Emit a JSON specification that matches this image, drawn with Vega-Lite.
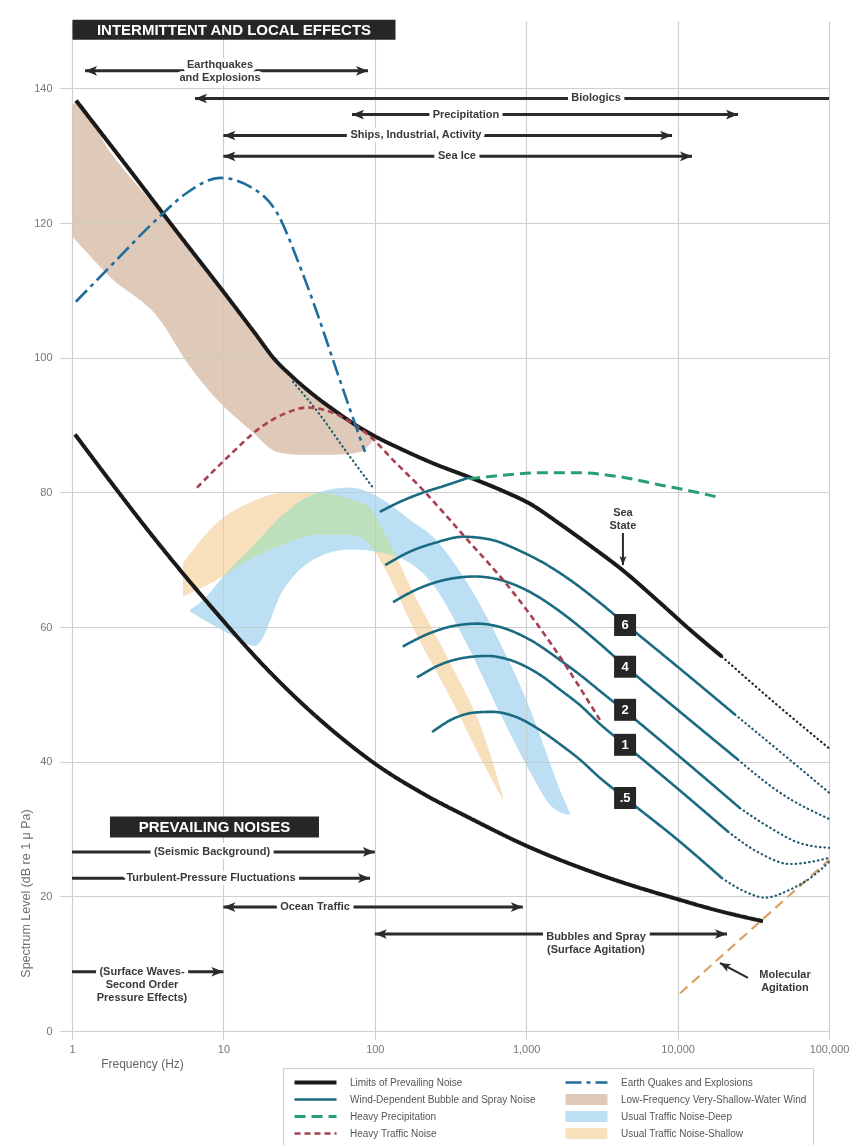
{
"$schema":"https://vega.github.io/schema/vega-lite/v6.json",
"width":757,"height":1010,
"autosize":{"type":"none"},
"padding":{"left":72,"top":21,"right":22,"bottom":114},
"background":"#ffffff",
"config":{"view":{"stroke":null},"font":"Liberation Sans"},
"datasets":{
"curveinfo":[
{"c":"upper","s":"Limits of Prevailing Noise"},
{"c":"lower","s":"Limits of Prevailing Noise"},
{"c":"sstop","s":"Wind-Dependent Bubble and Spray Noise"},
{"c":"ss6","s":"Wind-Dependent Bubble and Spray Noise"},
{"c":"ss4","s":"Wind-Dependent Bubble and Spray Noise"},
{"c":"ss2","s":"Wind-Dependent Bubble and Spray Noise"},
{"c":"ss1","s":"Wind-Dependent Bubble and Spray Noise"},
{"c":"ss05","s":"Wind-Dependent Bubble and Spray Noise"},
{"c":"precip","s":"Heavy Precipitation"},
{"c":"traffic","s":"Heavy Traffic Noise"},
{"c":"quake","s":"Earth Quakes and Explosions"}
],
"curves":[
{"c":"upper","f":1.063,"db":138.2},{"c":"upper","f":2.42,"db":127.8},{"c":"upper","f":5.17,"db":118.1},{"c":"upper","f":10,"db":109.8},{"c":"upper","f":16.2,"db":103.6},{"c":"upper","f":21.9,"db":99.7},{"c":"upper","f":27.5,"db":97.5},{"c":"upper","f":37.3,"db":94.9},{"c":"upper","f":54.6,"db":92.1},{"c":"upper","f":79.8,"db":89.6},{"c":"upper","f":98.8,"db":88.4},{"c":"upper","f":147,"db":86.5},{"c":"upper","f":232,"db":84.5},{"c":"upper","f":426,"db":82.2},{"c":"upper","f":703,"db":80.2},{"c":"upper","f":1059,"db":78.3},{"c":"upper","f":1671,"db":75.3},{"c":"upper","f":2637,"db":72.1},{"c":"upper","f":4355,"db":68.4},{"c":"upper","f":7650,"db":63.6},{"c":"upper","f":12070,"db":59.6},{"c":"upper","f":19630,"db":55.6},
{"c":"lower","f":1.047,"db":88.6},{"c":"lower","f":1.78,"db":81.7},{"c":"lower","f":3.27,"db":74.0},{"c":"lower","f":9.07,"db":62.0},{"c":"lower","f":17.5,"db":54.8},{"c":"lower","f":32.1,"db":48.9},{"c":"lower","f":58.9,"db":43.7},{"c":"lower","f":98.8,"db":39.8},{"c":"lower","f":199,"db":35.5},{"c":"lower","f":426,"db":31.6},{"c":"lower","f":982,"db":27.6},{"c":"lower","f":3069,"db":23.2},{"c":"lower","f":9910,"db":19.6},{"c":"lower","f":19050,"db":17.8},{"c":"lower","f":36650,"db":16.3},
{"c":"sstop","f":108,"db":77.1},{"c":"sstop","f":147,"db":78.6},{"c":"sstop","f":199,"db":79.8},{"c":"sstop","f":291,"db":81.0},{"c":"sstop","f":420,"db":82.2},
{"c":"ss6","f":117,"db":69.2},{"c":"ss6","f":171,"db":71.2},{"c":"ss6","f":250,"db":72.5},{"c":"ss6","f":383,"db":73.4},{"c":"ss6","f":577,"db":73.0},{"c":"ss6","f":910,"db":71.3},{"c":"ss6","f":1330,"db":69.4},{"c":"ss6","f":1945,"db":67.0},{"c":"ss6","f":3069,"db":63.6},{"c":"ss6","f":4498,"db":60.5},{"c":"ss6","f":10375,"db":53.8},{"c":"ss6","f":23930,"db":47.0},
{"c":"ss4","f":132,"db":63.7},{"c":"ss4","f":199,"db":65.8},{"c":"ss4","f":291,"db":67.0},{"c":"ss4","f":459,"db":67.5},{"c":"ss4","f":671,"db":67.0},{"c":"ss4","f":1059,"db":65.2},{"c":"ss4","f":1671,"db":62.3},{"c":"ss4","f":2265,"db":60.0},{"c":"ss4","f":3069,"db":57.5},{"c":"ss4","f":4498,"db":54.2},{"c":"ss4","f":10375,"db":47.4},{"c":"ss4","f":25060,"db":40.3},
{"c":"ss2","f":153,"db":57.1},{"c":"ss2","f":232,"db":59.1},{"c":"ss2","f":339,"db":60.2},{"c":"ss2","f":481,"db":60.5},{"c":"ss2","f":671,"db":60.0},{"c":"ss2","f":1059,"db":58.1},{"c":"ss2","f":1671,"db":55.1},{"c":"ss2","f":2265,"db":52.9},{"c":"ss2","f":3069,"db":50.5},{"c":"ss2","f":4498,"db":47.5},{"c":"ss2","f":10375,"db":40.7},{"c":"ss2","f":25820,"db":33.1},
{"c":"ss1","f":190,"db":52.5},{"c":"ss1","f":270,"db":54.4},{"c":"ss1","f":383,"db":55.4},{"c":"ss1","f":551,"db":55.7},{"c":"ss1","f":782,"db":55.1},{"c":"ss1","f":1233,"db":52.9},{"c":"ss1","f":1671,"db":50.7},{"c":"ss1","f":2265,"db":48.4},{"c":"ss1","f":3069,"db":45.6},{"c":"ss1","f":4498,"db":42.5},{"c":"ss1","f":10375,"db":35.7},{"c":"ss1","f":21530,"db":29.6},
{"c":"ss05","f":239,"db":44.4},{"c":"ss05","f":339,"db":46.5},{"c":"ss05","f":459,"db":47.3},{"c":"ss05","f":594,"db":47.4},{"c":"ss05","f":843,"db":46.7},{"c":"ss05","f":1233,"db":44.7},{"c":"ss05","f":1671,"db":42.6},{"c":"ss05","f":2265,"db":40.3},{"c":"ss05","f":3069,"db":37.6},{"c":"ss05","f":4498,"db":34.6},{"c":"ss05","f":10375,"db":28.1},{"c":"ss05","f":19630,"db":22.7},
{"c":"precip","f":420,"db":82.0},{"c":"precip","f":671,"db":82.5},{"c":"precip","f":1233,"db":82.9},{"c":"precip","f":2265,"db":82.9},{"c":"precip","f":4165,"db":82.3},{"c":"precip","f":7650,"db":81.1},{"c":"precip","f":14060,"db":79.9},{"c":"precip","f":19050,"db":79.2},
{"c":"traffic","f":6.69,"db":80.7},{"c":"traffic","f":11.1,"db":85.6},{"c":"traffic","f":17.5,"db":89.6},{"c":"traffic","f":27.5,"db":92.0},{"c":"traffic","f":35.7,"db":92.6},{"c":"traffic","f":52.9,"db":91.8},{"c":"traffic","f":74,"db":90.0},{"c":"traffic","f":93,"db":88.3},{"c":"traffic","f":136,"db":84.5},{"c":"traffic","f":199,"db":80.8},{"c":"traffic","f":426,"db":72.5},{"c":"traffic","f":703,"db":67.0},{"c":"traffic","f":1503,"db":57.1},{"c":"traffic","f":3069,"db":46.2},
{"c":"quake","f":1.06,"db":108.3},{"c":"quake","f":1.78,"db":113.5},{"c":"quake","f":3.81,"db":121.0},{"c":"quake","f":5.75,"db":124.5},{"c":"quake","f":9.5,"db":126.7},{"c":"quake","f":15,"db":125.4},{"c":"quake","f":22.6,"db":121.5},{"c":"quake","f":32.1,"db":113.5},{"c":"quake","f":41.5,"db":106.7},{"c":"quake","f":52.9,"db":99.7},{"c":"quake","f":68.6,"db":92.3},{"c":"quake","f":86.1,"db":86.0}
],
"dotted":[
{"c":"upper_ext","f":19630,"db":55.6},{"c":"upper_ext","f":43950,"db":48.7},{"c":"upper_ext","f":100000,"db":42.0},
{"c":"ss6_ext","f":23930,"db":47.0},{"c":"ss6_ext","f":47420,"db":41.5},{"c":"ss6_ext","f":100000,"db":35.4},
{"c":"ss4_ext","f":25060,"db":40.3},{"c":"ss4_ext","f":47420,"db":35.4},{"c":"ss4_ext","f":100000,"db":31.5},
{"c":"ss2_ext","f":25820,"db":33.1},{"c":"ss2_ext","f":40740,"db":30.2},{"c":"ss2_ext","f":64270,"db":27.9},{"c":"ss2_ext","f":100000,"db":27.2},
{"c":"ss1_ext","f":21530,"db":29.6},{"c":"ss1_ext","f":34990,"db":26.4},{"c":"ss1_ext","f":55230,"db":24.8},{"c":"ss1_ext","f":100000,"db":25.7},
{"c":"ss05_ext","f":19630,"db":22.7},{"c":"ss05_ext","f":27870,"db":20.7},{"c":"ss05_ext","f":37770,"db":19.8},{"c":"ss05_ext","f":55230,"db":21.0},{"c":"ss05_ext","f":75000,"db":22.7},{"c":"ss05_ext","f":100000,"db":25.1},
{"c":"mid","f":28.8,"db":96.4},{"c":"mid","f":43.5,"db":91.5},{"c":"mid","f":63.6,"db":86.3},{"c":"mid","f":97.3,"db":80.7}
],
"molecular":[{"f":10375,"db":5.6},{"f":100000,"db":25.4}],
"bands":[
{"b":"tan","f":1.0,"lo":118.0,"hi":137.1},{"b":"tan","f":1.06,"lo":117.4,"hi":138.0},{"b":"tan","f":1.78,"lo":112.0,"hi":130.6},{"b":"tan","f":3.81,"lo":105.6,"hi":121.7},{"b":"tan","f":5.75,"lo":99.3,"hi":116.9},{"b":"tan","f":9.07,"lo":93.8,"hi":111.0},{"b":"tan","f":15.0,"lo":89.3,"hi":104.5},{"b":"tan","f":22.6,"lo":86.0,"hi":99.4},{"b":"tan","f":32.1,"lo":85.6,"hi":96.2},{"b":"tan","f":52.9,"lo":85.6,"hi":92.3},{"b":"tan","f":80.0,"lo":86.0,"hi":89.6},{"b":"tan","f":95.8,"lo":87.5,"hi":88.5},
{"b":"shallow","f":5.41,"lo":64.5,"hi":69.5},{"b":"shallow","f":9.07,"lo":67.0,"hi":75.5},{"b":"shallow","f":15.0,"lo":70.0,"hi":78.5},{"b":"shallow","f":24.8,"lo":72.2,"hi":79.9},{"b":"shallow","f":41.5,"lo":73.7,"hi":79.9},{"b":"shallow","f":68.6,"lo":73.7,"hi":79.0},{"b":"shallow","f":93,"lo":72.2,"hi":77.7},{"b":"shallow","f":113,"lo":69.2,"hi":74.4},{"b":"shallow","f":190,"lo":58.7,"hi":64.0},{"b":"shallow","f":314,"lo":49.6,"hi":54.7},{"b":"shallow","f":519,"lo":39.8,"hi":44.3},{"b":"shallow","f":703,"lo":34.3,"hi":34.8},
{"b":"deep","f":6.02,"lo":62.3,"hi":62.6},{"b":"deep","f":7.0,"lo":61.4,"hi":63.6},{"b":"deep","f":10.25,"lo":59.3,"hi":67.8},{"b":"deep","f":16.2,"lo":57.2,"hi":72.4},{"b":"deep","f":24.8,"lo":65.5,"hi":76.7},{"b":"deep","f":41.5,"lo":70.3,"hi":79.9},{"b":"deep","f":68.6,"lo":71.5,"hi":80.7},{"b":"deep","f":113,"lo":71.0,"hi":78.9},{"b":"deep","f":171,"lo":69.5,"hi":75.9},{"b":"deep","f":242,"lo":66.3,"hi":73.4},{"b":"deep","f":406,"lo":57.4,"hi":66.6},{"b":"deep","f":671,"lo":47.2,"hi":57.7},{"b":"deep","f":1109,"lo":37.7,"hi":46.7},{"b":"deep","f":1435,"lo":33.6,"hi":39.8},{"b":"deep","f":1671,"lo":32.5,"hi":35.8},{"b":"deep","f":1945,"lo":32.1,"hi":32.4}
],
"arrows":[
{"t":"Earthquakes and Explosions","f1":1.22,"f2":90.2,"db":142.6,"h1":true,"h2":true},
{"t":"Biologics","f1":6.49,"f2":100000,"db":138.5,"h1":true,"h2":false},
{"t":"Precipitation","f1":70.7,"f2":25060,"db":136.1,"h1":true,"h2":true},
{"t":"Ships, Industrial, Activity","f1":10,"f2":9190,"db":133.0,"h1":true,"h2":true},
{"t":"Sea Ice","f1":10,"f2":12450,"db":129.9,"h1":true,"h2":true},
{"t":"Seismic Background","f1":1,"f2":100,"db":26.6,"h1":false,"h2":true},
{"t":"Turbulent-Pressure Fluctuations","f1":1,"f2":93,"db":22.7,"h1":false,"h2":true},
{"t":"Ocean Traffic","f1":10,"f2":950,"db":18.4,"h1":true,"h2":true},
{"t":"Bubbles and Spray","f1":100,"f2":21200,"db":14.4,"h1":true,"h2":true},
{"t":"Surface Waves","f1":1,"f2":10,"db":8.8,"h1":false,"h2":true}
],
"pointers":[
{"t":"Sea State","f1":4355,"db1":74.1,"f2":4355,"db2":69.2,"dir":"down"},
{"t":"Molecular Agitation","f1":29170,"db1":7.9,"f2":19050,"db2":10.1,"dir":"upleft"}
],
"labels":[
{"t":"Earthquakes\nand Explosions","f":9.5,"db":143.5},
{"t":"Biologics","f":2891,"db":138.5},
{"t":"Precipitation","f":400,"db":136.1},
{"t":"Ships, Industrial, Activity","f":187,"db":133.0},
{"t":"Sea Ice","f":349,"db":129.9},
{"t":"(Seismic Background)","f":8.41,"db":26.6},
{"t":"Turbulent-Pressure Fluctuations","f":8.28,"db":22.7},
{"t":"Ocean Traffic","f":40.3,"db":18.4},
{"t":"Bubbles and Spray\n(Surface Agitation)","f":2891,"db":13.9},
{"t":"(Surface Waves-\nSecond Order\nPressure Effects)","f":2.9,"db":8.8},
{"t":"Molecular\nAgitation","f":51200,"db":8.3},
{"t":"Sea\nState","f":4355,"db":77.0}
],
"titles":[
{"t":"INTERMITTENT AND LOCAL EFFECTS","f":11.75,"db":148.7},
{"t":"PREVAILING NOISES","f":8.73,"db":30.3}
],
"seastate":[
{"t":"6","f":4498,"db":60.3},{"t":"4","f":4498,"db":54.1},{"t":"2","f":4498,"db":47.7},{"t":"1","f":4498,"db":42.5},{"t":".5","f":4498,"db":34.6}
]
},
"layer":[
{"data":{"name":"bands"},"transform":[{"filter":"datum.b === 'tan'"}],
 "mark":{"type":"area","color":"#dfc9b9","blend":"darken","interpolate":"monotone"},
 "encoding":{
  "x":{"field":"f","type":"quantitative","scale":{"type":"log","domain":[1,100000],"nice":false},
   "axis":{"values":[1,10,100,1000,10000,100000],"format":",","title":"Frequency (Hz)","grid":true,"gridColor":"#cfcfcf","gridWidth":1.2,"domain":false,"tickColor":"#cfcfcf","tickSize":8,"labelPadding":4,"labelFontSize":11,"labelColor":"#777777","labelFlush":false,"titleFontSize":12,"titleFontWeight":"normal","titleColor":"#666666","titleX":70,"titleY":32,"titleAlign":"center","titleBaseline":"middle"}},
  "y":{"field":"hi","type":"quantitative","scale":{"domain":[0,150],"nice":false},
   "axis":{"values":[0,20,40,60,80,100,120,140],"title":"Spectrum Level (dB re 1 μ Pa)","grid":true,"gridColor":"#cfcfcf","gridWidth":1.2,"domain":false,"tickColor":"#cfcfcf","tickSize":12,"labelPadding":8,"labelFontSize":11,"labelColor":"#777777","titleX":-47,"titleY":872,"titleAngle":-90,"titleAlign":"center","titleBaseline":"middle","titleFontWeight":"normal","titleFontSize":12.5,"titleColor":"#707070"}},
  "y2":{"field":"lo"}}},
{"data":{"name":"bands"},"transform":[{"filter":"datum.b === 'shallow'"}],
 "mark":{"type":"area","color":"#f7e0bb","blend":"darken","interpolate":"monotone"},
 "encoding":{
  "x":{"field":"f","type":"quantitative","scale":{"type":"log","domain":[1,100000],"nice":false}},
  "y":{"field":"hi","type":"quantitative","scale":{"domain":[0,150],"nice":false}},
  "y2":{"field":"lo"}}},
{"data":{"name":"bands"},"transform":[{"filter":"datum.b === 'deep'"}],
 "mark":{"type":"area","color":"#bddff3","blend":"darken","interpolate":"monotone"},
 "encoding":{
  "x":{"field":"f","type":"quantitative","scale":{"type":"log","domain":[1,100000],"nice":false}},
  "y":{"field":"hi","type":"quantitative","scale":{"domain":[0,150],"nice":false}},
  "y2":{"field":"lo"}}},
{"data":{"name":"molecular"},
 "mark":{"type":"line","color":"#d9a066","strokeWidth":2.2,"strokeDash":[10,6]},
 "encoding":{
  "x":{"field":"f","type":"quantitative","scale":{"type":"log","domain":[1,100000],"nice":false}},
  "y":{"field":"db","type":"quantitative","scale":{"domain":[0,150],"nice":false}}}},
{"data":{"name":"dotted"},
 "mark":{"type":"line","strokeWidth":2.2,"strokeDash":[0.5,4],"strokeCap":"round","interpolate":"monotone"},
 "encoding":{
  "x":{"field":"f","type":"quantitative","scale":{"type":"log","domain":[1,100000],"nice":false}},
  "y":{"field":"db","type":"quantitative","scale":{"domain":[0,150],"nice":false}},
  "detail":{"field":"c"},
  "stroke":{"condition":{"test":"datum.c === 'upper_ext'","value":"#222222"},"value":"#245a6e"}}},
{"data":{"name":"curves"},
 "transform":[{"lookup":"c","from":{"data":{"name":"curveinfo"},"key":"c","fields":["s"]}}],
 "mark":{"type":"line","strokeCap":"butt","strokeJoin":"round","interpolate":"monotone"},
 "encoding":{
  "x":{"field":"f","type":"quantitative","scale":{"type":"log","domain":[1,100000],"nice":false}},
  "y":{"field":"db","type":"quantitative","scale":{"domain":[0,150],"nice":false}},
  "detail":{"field":"c"},
  "stroke":{"field":"s","type":"nominal",
   "scale":{"domain":["Limits of Prevailing Noise","Wind-Dependent Bubble and Spray Noise","Heavy Precipitation","Heavy Traffic Noise","Earth Quakes and Explosions","Low-Frequency Very-Shallow-Water Wind","Usual Traffic Noise-Deep","Usual Traffic Noise-Shallow"],
    "range":["#1a1a1a","#1a6b82","#27a070","#a8404f","#1f6d9a","#dfc9b9","#bddff3","#f7e0bb"]},
   "legend":{"title":null,"orient":"none","legendX":211,"legendY":1047,"columns":2,"symbolType":"stroke","symbolSize":1764,"clipHeight":17,"rowPadding":0,"columnPadding":24,"padding":6,"symbolOffset":0,"labelOffset":8,"labelFont":"Liberation Sans","labelFontSize":10,"labelColor":"#555555","strokeColor":"#cccccc","fillColor":"#ffffff","labelLimit":300}},
  "strokeDash":{"field":"s","type":"nominal",
   "scale":{"domain":["Limits of Prevailing Noise","Wind-Dependent Bubble and Spray Noise","Heavy Precipitation","Heavy Traffic Noise","Earth Quakes and Explosions","Low-Frequency Very-Shallow-Water Wind","Usual Traffic Noise-Deep","Usual Traffic Noise-Shallow"],
    "range":[[1,0],[1,0],[11,6],[6,4],[16,5,4,5],[1,0],[1,0],[1,0]]},
   "legend":{"title":null,"orient":"none","legendX":211,"legendY":1047,"columns":2,"symbolType":"stroke","symbolSize":1764,"clipHeight":17,"rowPadding":0,"columnPadding":24,"padding":6,"symbolOffset":0,"labelOffset":8,"labelFont":"Liberation Sans","labelFontSize":10,"labelColor":"#555555","strokeColor":"#cccccc","fillColor":"#ffffff","labelLimit":300}},
  "strokeWidth":{"field":"s","type":"nominal",
   "scale":{"type":"ordinal","domain":["Limits of Prevailing Noise","Wind-Dependent Bubble and Spray Noise","Heavy Precipitation","Heavy Traffic Noise","Earth Quakes and Explosions","Low-Frequency Very-Shallow-Water Wind","Usual Traffic Noise-Deep","Usual Traffic Noise-Shallow"],
    "range":[4,2.6,3,2.6,2.6,11,11,11]},
   "legend":{"title":null,"orient":"none","legendX":211,"legendY":1047,"columns":2,"symbolType":"stroke","symbolSize":1764,"clipHeight":17,"rowPadding":0,"columnPadding":24,"padding":6,"symbolOffset":0,"labelOffset":8,"labelFont":"Liberation Sans","labelFontSize":10,"labelColor":"#555555","strokeColor":"#cccccc","fillColor":"#ffffff","labelLimit":300}}}},
{"data":{"name":"arrows"},
 "mark":{"type":"rule","color":"#2b2b2b","strokeWidth":3},
 "encoding":{
  "x":{"field":"f1","type":"quantitative","scale":{"type":"log","domain":[1,100000],"nice":false}},
  "x2":{"field":"f2"},
  "y":{"field":"db","type":"quantitative","scale":{"domain":[0,150],"nice":false}}}},
{"data":{"name":"arrows"},"transform":[{"filter":"datum.h2"}],
 "mark":{"type":"point","shape":"M0,0L-3,-1.2L-2.3,0L-3,1.2Z","size":64,"filled":true,"color":"#2b2b2b","opacity":1,"strokeWidth":0},
 "encoding":{
  "x":{"field":"f2","type":"quantitative","scale":{"type":"log","domain":[1,100000],"nice":false}},
  "y":{"field":"db","type":"quantitative","scale":{"domain":[0,150],"nice":false}}}},
{"data":{"name":"arrows"},"transform":[{"filter":"datum.h1"}],
 "mark":{"type":"point","shape":"M0,0L3,-1.2L2.3,0L3,1.2Z","size":64,"filled":true,"color":"#2b2b2b","opacity":1,"strokeWidth":0},
 "encoding":{
  "x":{"field":"f1","type":"quantitative","scale":{"type":"log","domain":[1,100000],"nice":false}},
  "y":{"field":"db","type":"quantitative","scale":{"domain":[0,150],"nice":false}}}},
{"data":{"name":"pointers"},
 "mark":{"type":"rule","color":"#2b2b2b","strokeWidth":2},
 "encoding":{
  "x":{"field":"f1","type":"quantitative","scale":{"type":"log","domain":[1,100000],"nice":false}},
  "x2":{"field":"f2"},
  "y":{"field":"db1","type":"quantitative","scale":{"domain":[0,150],"nice":false}},
  "y2":{"field":"db2"}}},
{"data":{"name":"pointers"},"transform":[{"filter":"datum.dir === 'down'"}],
 "mark":{"type":"point","shape":"M0,0L-3,-1.2L-2.3,0L-3,1.2Z","size":36,"angle":90,"filled":true,"color":"#2b2b2b","opacity":1,"strokeWidth":0},
 "encoding":{
  "x":{"field":"f2","type":"quantitative","scale":{"type":"log","domain":[1,100000],"nice":false}},
  "y":{"field":"db2","type":"quantitative","scale":{"domain":[0,150],"nice":false}}}},
{"data":{"name":"pointers"},"transform":[{"filter":"datum.dir === 'upleft'"}],
 "mark":{"type":"point","shape":"M0,0L-3,-1.2L-2.3,0L-3,1.2Z","size":49,"angle":208,"filled":true,"color":"#2b2b2b","opacity":1,"strokeWidth":0},
 "encoding":{
  "x":{"field":"f2","type":"quantitative","scale":{"type":"log","domain":[1,100000],"nice":false}},
  "y":{"field":"db2","type":"quantitative","scale":{"domain":[0,150],"nice":false}}}},
{"data":{"name":"labels"},
 "mark":{"type":"text","lineBreak":"\n","lineHeight":13,"fontWeight":"bold","fontSize":11,"align":"center","baseline":"middle","fill":"#ffffff","stroke":"#ffffff","strokeWidth":8,"strokeJoin":"round"},
 "encoding":{
  "x":{"field":"f","type":"quantitative","scale":{"type":"log","domain":[1,100000],"nice":false}},
  "y":{"field":"db","type":"quantitative","scale":{"domain":[0,150],"nice":false}},
  "text":{"field":"t"}}},
{"data":{"name":"labels"},
 "mark":{"type":"text","lineBreak":"\n","lineHeight":13,"fontWeight":"bold","fontSize":11,"align":"center","baseline":"middle","color":"#3a3a3a"},
 "encoding":{
  "x":{"field":"f","type":"quantitative","scale":{"type":"log","domain":[1,100000],"nice":false}},
  "y":{"field":"db","type":"quantitative","scale":{"domain":[0,150],"nice":false}},
  "text":{"field":"t"}}},
{"data":{"name":"titles"},"transform":[{"filter":"datum.t === 'INTERMITTENT AND LOCAL EFFECTS'"}],
 "mark":{"type":"point","shape":"M-1,-0.062H1V0.062H-1Z","size":104329,"filled":true,"color":"#262626","opacity":1,"strokeWidth":0},
 "encoding":{
  "x":{"field":"f","type":"quantitative","scale":{"type":"log","domain":[1,100000],"nice":false}},
  "y":{"field":"db","type":"quantitative","scale":{"domain":[0,150],"nice":false}}}},
{"data":{"name":"titles"},"transform":[{"filter":"datum.t === 'PREVAILING NOISES'"}],
 "mark":{"type":"point","shape":"M-1,-0.1H1V0.1H-1Z","size":43681,"filled":true,"color":"#262626","opacity":1,"strokeWidth":0},
 "encoding":{
  "x":{"field":"f","type":"quantitative","scale":{"type":"log","domain":[1,100000],"nice":false}},
  "y":{"field":"db","type":"quantitative","scale":{"domain":[0,150],"nice":false}}}},
{"data":{"name":"titles"},
 "mark":{"type":"text","fontWeight":"bold","fontSize":15,"align":"center","baseline":"middle","color":"#ffffff"},
 "encoding":{
  "x":{"field":"f","type":"quantitative","scale":{"type":"log","domain":[1,100000],"nice":false}},
  "y":{"field":"db","type":"quantitative","scale":{"domain":[0,150],"nice":false}},
  "text":{"field":"t"}}},
{"data":{"name":"seastate"},
 "mark":{"type":"point","shape":"square","size":484,"filled":true,"color":"#262626","opacity":1,"strokeWidth":0},
 "encoding":{
  "x":{"field":"f","type":"quantitative","scale":{"type":"log","domain":[1,100000],"nice":false}},
  "y":{"field":"db","type":"quantitative","scale":{"domain":[0,150],"nice":false}}}},
{"data":{"name":"seastate"},
 "mark":{"type":"text","fontWeight":"bold","fontSize":13,"align":"center","baseline":"middle","color":"#ffffff"},
 "encoding":{
  "x":{"field":"f","type":"quantitative","scale":{"type":"log","domain":[1,100000],"nice":false}},
  "y":{"field":"db","type":"quantitative","scale":{"domain":[0,150],"nice":false}},
  "text":{"field":"t"}}}
]
}
